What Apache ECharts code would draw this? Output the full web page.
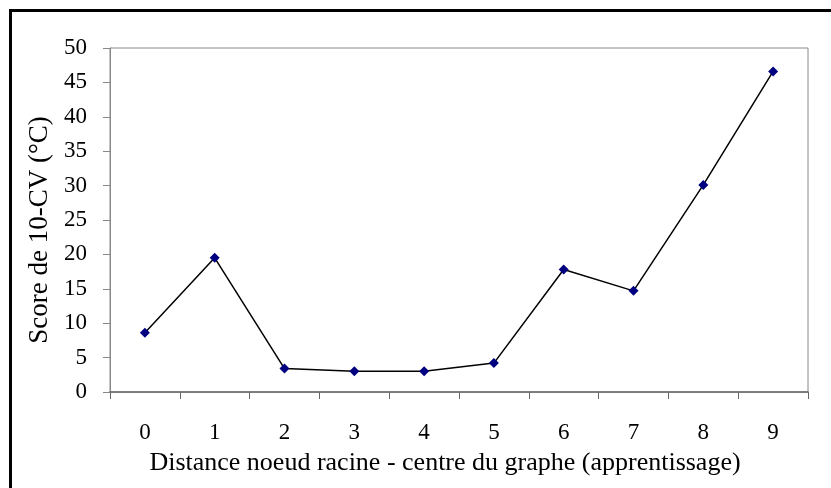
<!DOCTYPE html>
<html><head><meta charset="utf-8">
<script src="https://cdn.jsdelivr.net/npm/echarts@6/dist/echarts.min.js"></script>
<style>html,body{margin:0;padding:0;background:#fff;}#c{width:831px;height:488px;}
#frame{position:absolute;left:9px;top:9px;width:840px;height:500px;border-left:3px solid #000;border-top:3px solid #000;pointer-events:none;}</style>
</head><body><div id="c"></div><div id="frame"></div>
<script>
const categories = ['0','1','2','3','4','5','6','7','8','9'];
const scores = [8.6, 19.5, 3.4, 3.0, 3.0, 4.2, 17.8, 14.7, 30.1, 46.6];
const yTicks = [0, 50, 5];
const xTitle = 'Distance noeud racine - centre du graphe (apprentissage)';
const yTitle = 'Score de 10-CV (°C)';

const font = '"Liberation Serif", "Times New Roman", serif';
const chart = echarts.init(document.getElementById('c'), null, {renderer: 'canvas'});
chart.setOption({
  animation: false,
  backgroundColor: '#fff',
  grid: {left: 110, right: 23, top: 48, bottom: 96, show: true, borderColor: '#888', borderWidth: 1, backgroundColor: 'transparent'},
  xAxis: {
    type: 'category', data: categories, boundaryGap: true,
    name: xTitle, nameLocation: 'middle', nameGap: 58,
    nameTextStyle: {fontFamily: font, fontSize: 26, color: '#000', padding: [0, 28, 0, 0]},
    axisLine: {lineStyle: {color: '#666', width: 1.5}},
    axisTick: {show: true, alignWithLabel: false, length: 7, lineStyle: {color: '#666'}},
    axisLabel: {fontFamily: font, fontSize: 23, color: '#000', margin: 29},
    splitLine: {show: false}
  },
  yAxis: {
    type: 'value', min: yTicks[0], max: yTicks[1], interval: yTicks[2],
    name: yTitle, nameLocation: 'middle', nameGap: 51, nameRotate: 90,
    nameTextStyle: {fontFamily: font, fontSize: 27, color: '#000', padding: [0, 20, 0, 0]},
    axisLine: {show: true, lineStyle: {color: '#888', width: 1}},
    axisTick: {show: true, length: 7, lineStyle: {color: '#888'}},
    axisLabel: {fontFamily: font, fontSize: 23, color: '#000', margin: 23},
    splitLine: {show: false}
  },
  series: [{
    type: 'line', data: scores,
    symbol: 'diamond', symbolSize: 10,
    itemStyle: {color: '#000080'},
    lineStyle: {color: '#000', width: 1.5}
  }]
});
</script></body></html>
